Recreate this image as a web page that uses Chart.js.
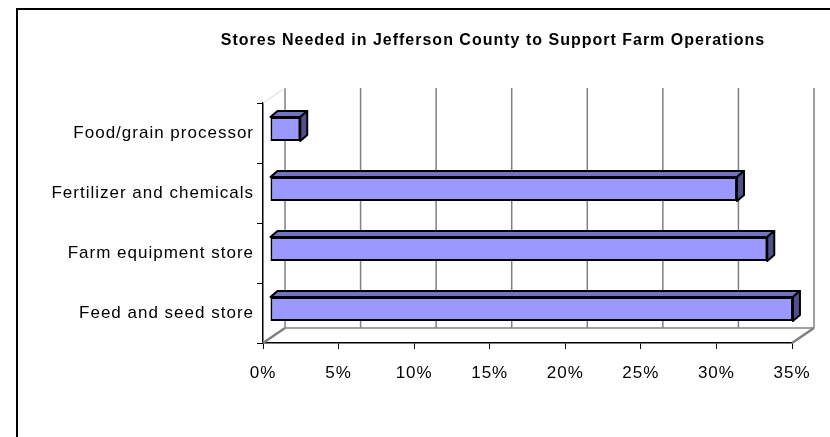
<!DOCTYPE html>
<html>
<head>
<meta charset="utf-8">
<title>Stores Needed in Jefferson County</title>
<script src="https://cdn.jsdelivr.net/npm/chart.js@4.4.0/dist/chart.umd.min.js"></script>
<style>
  html, body { margin: 0; padding: 0; background: #fff; }
</style>
</head>
<body>
<canvas id="store-chart" width="830" height="437"></canvas>
<script>
const chartTitle = "Stores Needed in Jefferson County to Support Farm Operations";
const storeTypes = ["Food/grain processor", "Fertilizer and chemicals", "Farm equipment store", "Feed and seed store"];
const percentNeeded = [2.0, 30.9, 32.9, 34.6];
const percentTicks = [0, 5, 10, 15, 20, 25, 30, 35];

// 3D look: back wall offset from the front plane, and where the bars sit in the depth
const WALL_DX = 22, WALL_DY = -15;
const BAR_SHIFT_X = 7, BAR_SHIFT_Y = -4;
const BAR_DEPTH_X = 7, BAR_DEPTH_Y = -6;

const FONT = "'Liberation Sans', Arial, sans-serif";

function line(ctx, x1, y1, x2, y2) {
  ctx.beginPath();
  ctx.moveTo(x1, y1);
  ctx.lineTo(x2, y2);
  ctx.stroke();
}

const depthPlugin = {
  id: "depth3d",
  beforeDraw(chart) {
    chart.ctx.letterSpacing = "1px";
  },
  beforeDatasetsDraw(chart) {
    const { ctx, chartArea: a, scales } = chart;
    const x = scales.x;
    ctx.save();
    ctx.strokeStyle = "#808080";
    ctx.lineWidth = 1.5;
    // back wall gridlines
    percentTicks.forEach((v) => {
      const px = x.getPixelForValue(v) + WALL_DX;
      line(ctx, px, a.top + WALL_DY, px, a.bottom + WALL_DY);
    });
    // floor edges
    line(ctx, a.left + WALL_DX, a.bottom + WALL_DY, x.getPixelForValue(35) + WALL_DX, a.bottom + WALL_DY);
    ctx.lineWidth = 2.5;
    line(ctx, a.left, a.bottom, a.left + WALL_DX, a.bottom + WALL_DY);
    line(ctx, x.getPixelForValue(35), a.bottom, x.getPixelForValue(35) + WALL_DX, a.bottom + WALL_DY);
    // side wall top edge
    ctx.strokeStyle = "#d8d8d8";
    ctx.lineWidth = 1;
    line(ctx, a.left, a.top, a.left + WALL_DX, a.top + WALL_DY);
    ctx.restore();

    // bars sit a little behind the front plane
    ctx.save();
    ctx.translate(BAR_SHIFT_X, BAR_SHIFT_Y);
  },
  afterDatasetsDraw(chart) {
    const { ctx } = chart;
    ctx.lineWidth = 2;
    ctx.strokeStyle = "#000";
    ctx.lineJoin = "round";
    chart.getDatasetMeta(0).data.forEach((bar) => {
      const { x, y, base, height } = bar.getProps(["x", "y", "base", "height"], true);
      const top = y - height / 2;
      const bottom = y + height / 2;
      // top face
      ctx.beginPath();
      ctx.moveTo(base, top);
      ctx.lineTo(base + BAR_DEPTH_X, top + BAR_DEPTH_Y);
      ctx.lineTo(x + BAR_DEPTH_X, top + BAR_DEPTH_Y);
      ctx.lineTo(x, top);
      ctx.closePath();
      ctx.fillStyle = "#7373c4";
      ctx.fill();
      ctx.stroke();
      // end face
      ctx.beginPath();
      ctx.moveTo(x, top);
      ctx.lineTo(x + BAR_DEPTH_X, top + BAR_DEPTH_Y);
      ctx.lineTo(x + BAR_DEPTH_X, bottom + BAR_DEPTH_Y);
      ctx.lineTo(x, bottom);
      ctx.closePath();
      ctx.fillStyle = "#4f4f8c";
      ctx.fill();
      ctx.stroke();
    });
    ctx.restore();
  },
  afterDraw(chart) {
    const { ctx } = chart;
    ctx.save();
    // title
    ctx.letterSpacing = "1px";
    ctx.font = "bold 16px " + FONT;
    ctx.fillStyle = "#000";
    ctx.textAlign = "center";
    ctx.textBaseline = "middle";
    ctx.fillText(chartTitle, 493, 41);
    // outer frame
    ctx.strokeStyle = "#000";
    ctx.lineWidth = 2;
    ctx.strokeRect(17, 9, 900, 500);
    ctx.restore();
  },
};

document.addEventListener("DOMContentLoaded", () => {
  const ctx = document.getElementById("store-chart").getContext("2d");
  new Chart(ctx, {
    type: "bar",
    data: {
      labels: storeTypes,
      datasets: [
        {
          data: percentNeeded,
          backgroundColor: "#9999ff",
          borderColor: "#000",
          borderWidth: 2,
          borderSkipped: false,
          barPercentage: 0.4,
          categoryPercentage: 1,
          clip: false,
        },
      ],
    },
    options: {
      indexAxis: "y",
      responsive: false,
      animation: false,
      devicePixelRatio: 1,
      layout: { padding: { top: 103, right: 38, left: 0, bottom: 0 } },
      plugins: {
        legend: { display: false },
        tooltip: { enabled: false },
        title: { display: false },
      },
      scales: {
        x: {
          min: 0,
          max: 35,
          afterBuildTicks: (scale) => {
            scale.ticks = percentTicks.map((v) => ({ value: v }));
          },
          afterFit: (scale) => {
            scale.height = 94;
          },
          border: { color: "#000", width: 1.5 },
          grid: { drawOnChartArea: false, color: "#000", tickLength: 6 },
          ticks: {
            color: "#000",
            font: { family: FONT, size: 17 },
            padding: 14,
            maxRotation: 0,
            callback: (v) => v + "%",
          },
        },
        y: {
          afterFit: (scale) => {
            scale.width = 263;
          },
          border: { color: "#000", width: 1.5 },
          grid: { offset: true, drawOnChartArea: false, color: "#000", tickLength: 6 },
          ticks: {
            color: "#000",
            font: { family: FONT, size: 17 },
            padding: 3,
          },
        },
      },
    },
    plugins: [depthPlugin],
  });
});
</script>
</body>
</html>
